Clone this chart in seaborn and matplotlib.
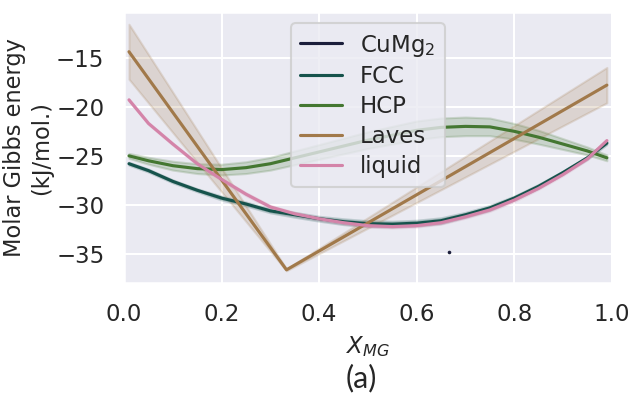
import numpy as np
import pandas as pd
import matplotlib
matplotlib.use("Agg")
import matplotlib.pyplot as plt
from matplotlib.ticker import MultipleLocator
import seaborn as sns

# ---- data ----
phases = ["CuMg$_2$", "FCC", "HCP", "Laves", "liquid"]

x_grid = [0.01, 0.05, 0.10, 0.15, 0.20, 0.25, 0.30, 0.35, 0.40, 0.45, 0.50,
          0.55, 0.60, 0.65, 0.70, 0.75, 0.80, 0.85, 0.90, 0.95, 0.99]

fcc_g = [-25.8, -26.5, -27.6, -28.5, -29.3, -29.9, -30.6, -31.0, -31.4, -31.7, -31.9,
         -31.95, -31.85, -31.6, -31.0, -30.3, -29.3, -28.1, -26.7, -25.2, -23.7]
fcc_hw = [0.15, 0.15, 0.15, 0.15, 0.2, 0.2, 0.2, 0.25, 0.25, 0.3, 0.3,
          0.3, 0.3, 0.3, 0.25, 0.25, 0.2, 0.2, 0.15, 0.15, 0.15]

liquid_g = [-19.3, -21.7, -23.8, -25.8, -27.4, -28.9, -30.2, -30.9, -31.4, -31.8, -32.1,
            -32.2, -32.1, -31.8, -31.2, -30.5, -29.5, -28.3, -26.9, -25.3, -23.45]
liquid_hw = [0.1, 0.1, 0.1, 0.1, 0.1, 0.15, 0.15, 0.15, 0.15, 0.15, 0.15,
             0.15, 0.15, 0.15, 0.15, 0.15, 0.15, 0.1, 0.1, 0.1, 0.1]

hcp_g = [-25.0, -25.5, -26.0, -26.3, -26.4, -26.2, -25.8, -25.2, -24.6, -24.0, -23.4,
         -22.9, -22.4, -22.1, -22.0, -22.05, -22.5, -23.1, -23.8, -24.5, -25.2]
hcp_hw = [0.25, 0.35, 0.45, 0.5, 0.55, 0.6, 0.65, 0.7, 0.75, 0.8, 0.85,
          0.9, 0.95, 0.95, 0.95, 0.9, 0.8, 0.7, 0.55, 0.4, 0.3]

laves_x = [0.01, 0.333, 0.99]
laves_g = [-14.4, -36.6, -17.8]
laves_hw = [2.8, 0.1, 1.8]

cumg2_x = [0.667]
cumg2_g = [-34.8]

# ---- build long-form table (centre, lower, upper samples per x) ----
rows = []
def add(name, xs, gs, hws):
    for x, g, h in zip(xs, gs, hws):
        for v in (g - h, g, g + h):
            rows.append({"X": x, "G": v, "phase": name})

add(phases[0], cumg2_x, cumg2_g, [0.0])
add(phases[1], x_grid, fcc_g, fcc_hw)
add(phases[2], x_grid, hcp_g, hcp_hw)
add(phases[3], laves_x, laves_g, laves_hw)
add(phases[4], x_grid, liquid_g, liquid_hw)
df = pd.DataFrame(rows)

sns.set_theme(style="darkgrid")
plt.rcParams["font.family"] = ["DejaVu Sans"]
palette = sns.color_palette("cubehelix", 7)[:5]

fig = plt.figure(figsize=(4.2, 2.64), dpi=150)
ax = fig.add_axes([0.197, 0.285, 0.774, 0.685])

sns.lineplot(data=df, x="X", y="G", hue="phase", hue_order=phases,
             palette=palette, errorbar=("pi", 100), ax=ax)
sns.scatterplot(x=cumg2_x, y=cumg2_g, color=palette[0], s=3, linewidth=0,
                legend=False, ax=ax)

ax.set_xlim(0, 1)
ax.yaxis.set_major_locator(MultipleLocator(5))
ax.set_xlabel("$X_{MG}$", fontsize=11)
ax.set_ylabel("Molar Gibbs energy\n(kJ/mol.)", fontsize=10.8, labelpad=1.5)
leg = ax.legend(loc="upper center", labelspacing=0.3, handlelength=1.8)
leg.set_title(None)

fig.text(0.573, 0.045, "(a)", ha="center", va="center", fontsize=14.5,
         family=["Lato", "DejaVu Sans"])

fig.savefig("out.png", dpi=150)
